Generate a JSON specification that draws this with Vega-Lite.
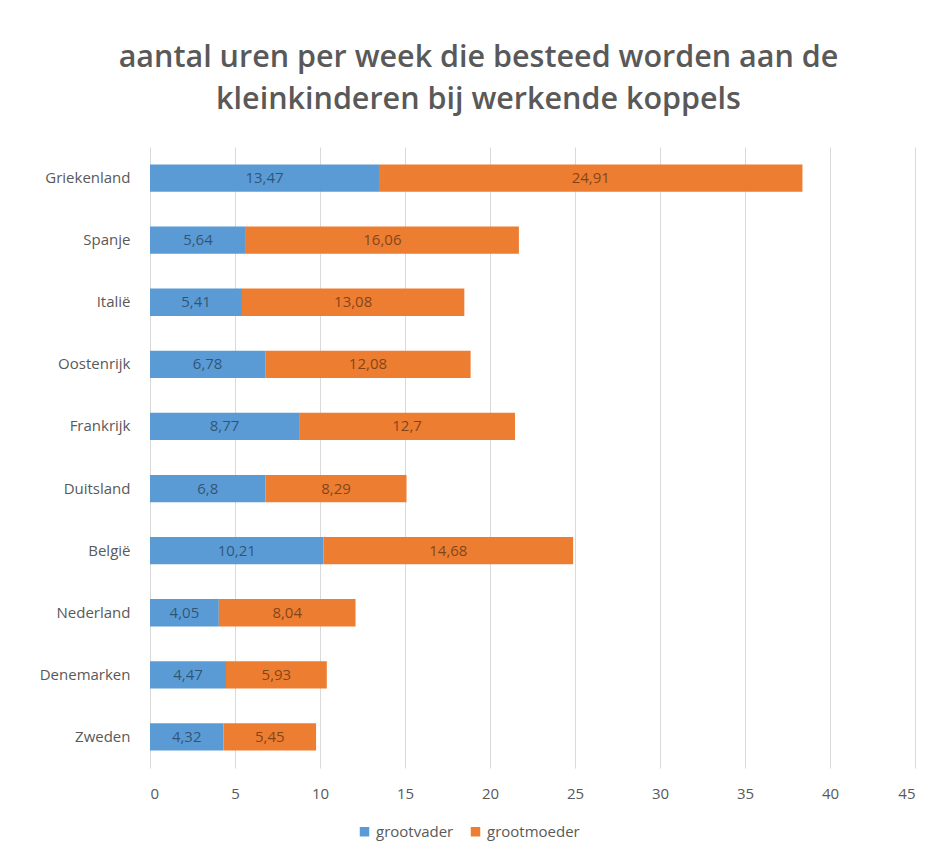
{
  "$schema": "https://vega.github.io/schema/vega-lite/v6.json",
  "width": 765,
  "height": 621,
  "autosize": {"type": "none"},
  "padding": {"left": 150, "top": 147, "right": 21, "bottom": 92},
  "background": "white",
  "config": {
    "font": "Open Sans",
    "view": {"stroke": null},
    "locale": {"number": {"decimal": ",", "thousands": ".", "grouping": [3], "currency": ["€", ""]}}
  },
  "title": {
    "text": ["aantal uren per week die besteed worden aan de", "kleinkinderen bij werkende koppels"],
    "font": "Open Sans",
    "fontSize": 30.5,
    "fontWeight": 600,
    "color": "#595959",
    "lineHeight": 42,
    "anchor": "middle",
    "dx": -54,
    "offset": 32
  },
  "data": {
    "values": [
      {"country": "Griekenland", "who": "grootvader", "value": 13.47},
      {"country": "Griekenland", "who": "grootmoeder", "value": 24.91},
      {"country": "Spanje", "who": "grootvader", "value": 5.64},
      {"country": "Spanje", "who": "grootmoeder", "value": 16.06},
      {"country": "Italië", "who": "grootvader", "value": 5.41},
      {"country": "Italië", "who": "grootmoeder", "value": 13.08},
      {"country": "Oostenrijk", "who": "grootvader", "value": 6.78},
      {"country": "Oostenrijk", "who": "grootmoeder", "value": 12.08},
      {"country": "Frankrijk", "who": "grootvader", "value": 8.77},
      {"country": "Frankrijk", "who": "grootmoeder", "value": 12.7},
      {"country": "Duitsland", "who": "grootvader", "value": 6.8},
      {"country": "Duitsland", "who": "grootmoeder", "value": 8.29},
      {"country": "België", "who": "grootvader", "value": 10.21},
      {"country": "België", "who": "grootmoeder", "value": 14.68},
      {"country": "Nederland", "who": "grootvader", "value": 4.05},
      {"country": "Nederland", "who": "grootmoeder", "value": 8.04},
      {"country": "Denemarken", "who": "grootvader", "value": 4.47},
      {"country": "Denemarken", "who": "grootmoeder", "value": 5.93},
      {"country": "Zweden", "who": "grootvader", "value": 4.32},
      {"country": "Zweden", "who": "grootmoeder", "value": 5.45}
    ]
  },
  "transform": [
    {"stack": "value", "groupby": ["country"], "sort": [{"field": "who", "order": "descending"}], "as": ["v0", "v1"]},
    {"calculate": "(datum.v0 + datum.v1) / 2", "as": "mid"}
  ],
  "encoding": {
    "y": {
      "field": "country",
      "type": "nominal",
      "sort": ["Griekenland", "Spanje", "Italië", "Oostenrijk", "Frankrijk", "Duitsland", "België", "Nederland", "Denemarken", "Zweden"],
      "scale": {"paddingInner": 0.56, "paddingOuter": 0.28},
      "axis": {"title": null, "domain": false, "ticks": false, "labelPadding": 20, "labelFontSize": 15, "labelColor": "#595959", "labelFont": "Open Sans"}
    }
  },
  "layer": [
    {
      "mark": {"type": "bar"},
      "encoding": {
        "x": {
          "field": "v0",
          "type": "quantitative",
          "scale": {"domain": [0, 45], "nice": false},
          "axis": {"title": null, "values": [0, 5, 10, 15, 20, 25, 30, 35, 40, 45], "domain": false, "ticks": false, "grid": true, "gridColor": "#d9d9d9", "labelPadding": 18, "labelFontSize": 15, "labelColor": "#595959", "labelFont": "Open Sans"}
        },
        "x2": {"field": "v1"},
        "color": {
          "field": "who",
          "type": "nominal",
          "scale": {"domain": ["grootvader", "grootmoeder"], "range": ["#5B9BD5", "#ED7D31"]},
          "legend": {
            "title": null,
            "orient": "none",
            "direction": "horizontal",
            "legendX": 207,
            "legendY": 677,
            "symbolType": "square",
            "symbolSize": 90,
            "labelFontSize": 15,
            "labelColor": "#595959",
            "labelFont": "Open Sans",
            "columnPadding": 14,
            "symbolOffset": 0
          }
        }
      }
    },
    {
      "mark": {"type": "text", "fontSize": 15, "fill": "#000000", "opacity": 0.45, "align": "center", "baseline": "middle"},
      "encoding": {
        "x": {"field": "mid", "type": "quantitative"},
        "text": {"field": "value", "type": "quantitative", "format": ".4~g"}
      }
    }
  ]
}
